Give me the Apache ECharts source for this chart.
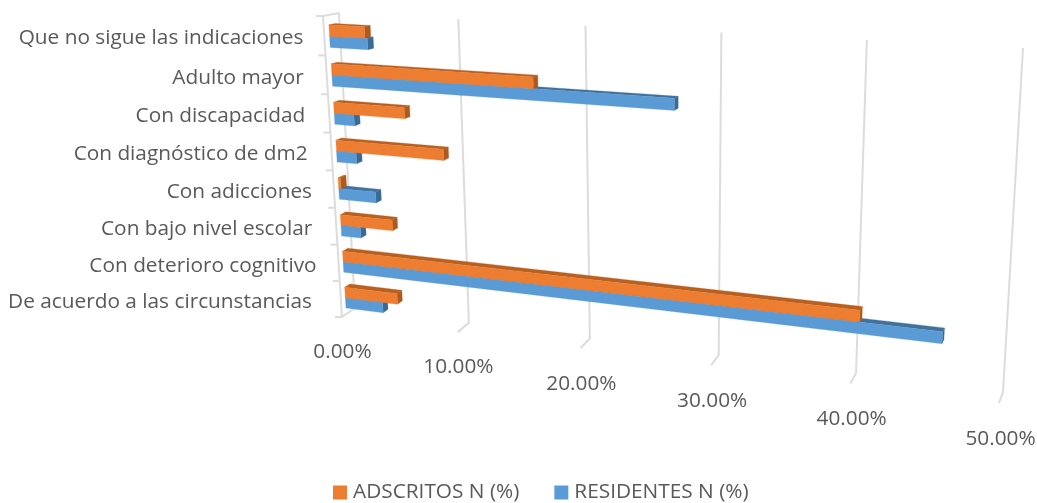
<!DOCTYPE html>
<html>
<head>
<meta charset="utf-8">
<style>html,body{margin:0;padding:0;background:#fff}#chart{width:1037px;height:503px}</style>
<script src="https://cdn.jsdelivr.net/npm/echarts@6/dist/echarts.min.js"></script>
</head>
<body>
<div id="chart"></div>
<script>
// Chart data, top row first
const categories = [
  'Que no sigue las indicaciones', 'Adulto mayor', 'Con discapacidad',
  'Con diagnóstico de dm2', 'Con adicciones', 'Con bajo nivel escolar',
  'Con deterioro cognitivo', 'De acuerdo a las circunstancias'
];
const adscritos = [3.0, 16.5, 6.0, 9.1, 0.2, 4.5, 40.4, 4.6];
const residentes = [3.2, 27.1, 1.7, 1.7, 3.2, 1.7, 46.0, 3.3];
const valueTicks = [0, 10, 20, 30, 40, 50];
const tickText = ['0.00%', '10.00%', '20.00%', '30.00%', '40.00%', '50.00%'];
const seriesNames = ['ADSCRITOS N (%)', 'RESIDENTES N (%)'];

// Perspective frame: wall corners (back) and the matching front plane
const backQuad = [[339, 13], [1023, 48], [1003, 392], [355, 308]];
const frontQuad = [[323, 16], [1018, 53], [999, 403], [342, 317]];
const GRID_W = 1037, GRID_H = 503;

// Horizontal offsets of the category captions, which do not follow the edge exactly
const captionNudge = [3, 1, 0, 0, 2, 0, 2, -5];

function makeHomography(q) {
  const [[x0, y0], [x1, y1], [x2, y2], [x3, y3]] = q;
  const dx1 = x1 - x2, dx2 = x3 - x2, sx = x0 - x1 + x2 - x3;
  const dy1 = y1 - y2, dy2 = y3 - y2, sy = y0 - y1 + y2 - y3;
  const den = dx1 * dy2 - dx2 * dy1;
  const g = (sx * dy2 - dx2 * sy) / den, h = (dx1 * sy - sx * dy1) / den;
  const a = x1 - x0 + g * x1, b = x3 - x0 + h * x3;
  const d = y1 - y0 + g * y1, e = y3 - y0 + h * y3;
  return (u, w) => {
    const k = g * u + h * w + 1;
    return [(a * u + b * w + x0) / k, (d * u + e * w + y0) / k];
  };
}
const toBack = makeHomography(backQuad);
const toFront = makeHomography(frontQuad);

// Takes a value and a fractional category row through the axes, then into the
// perspective frame. depth 0 is the front plane, depth 1 the back wall.
function place(api, value, row, depth) {
  const origin = api.coord([value, 0]);
  const band = api.size([0, 1])[1];
  const u = origin[0] / GRID_W;
  const w = (origin[1] + row * band) / GRID_H;
  const f = toFront(u, w), b = toBack(u, w);
  return [f[0] + (b[0] - f[0]) * depth, f[1] + (b[1] - f[1]) * depth];
}

const TEXT = '#595959', LINE = '#dcdcdc';
const FONT = '"Open Sans", sans-serif';
const FONT_PX = 20.8;
const DEPTH_NEAR = 0.33, DEPTH_FAR = 0.72;
const ROW_SHIFT = 0.04, BAR_SPAN = 0.29;

function face(points, fill) {
  return { type: 'polygon', shape: { points }, style: { fill, stroke: fill, lineWidth: 0.3 } };
}
function stroke(points) {
  return { type: 'polyline', shape: { points },
    style: { stroke: LINE, lineWidth: 2, fill: 'none' } };
}

function barRenderer(front, top, side, rowFrom, rowTo) {
  return function (params, api) {
    const v = api.value(0), i = api.value(1);
    const r0 = i + ROW_SHIFT + rowFrom, r1 = i + ROW_SHIFT + rowTo;
    const A = (val, r, d) => place(api, val, r, d);
    return { type: 'group', children: [
      face([A(0, r0, DEPTH_NEAR), A(v, r0, DEPTH_NEAR), A(v, r0, DEPTH_FAR), A(0, r0, DEPTH_FAR)], top),
      face([A(v, r0, DEPTH_NEAR), A(v, r0, DEPTH_FAR), A(v, r1, DEPTH_FAR), A(v, r1, DEPTH_NEAR)], side),
      face([A(0, r0, DEPTH_NEAR), A(v, r0, DEPTH_NEAR), A(v, r1, DEPTH_NEAR), A(0, r1, DEPTH_NEAR)], front)
    ] };
  };
}

function gridRenderer(params, api) {
  const v = api.value(0), n = categories.length;
  const children = [
    stroke([place(api, v, -0.5, 1), place(api, v, n - 0.5, 1), place(api, v, n - 0.5, 0)])
  ];
  const foot = place(api, v, n - 0.5, 0);
  children.push({ type: 'text', style: {
    x: foot[0] + 0.5 + v * 0.02, y: foot[1] + 35 + v * 0.02, text: tickText[params.dataIndex],
    fill: TEXT, font: FONT_PX + 'px ' + FONT, align: 'center', verticalAlign: 'middle' } });
  if (v === 0) {
    // Left edge of the side wall with its category tick marks
    children.push(stroke([place(api, 0, -0.5, 1), place(api, 0, -0.5, 0), place(api, 0, n - 0.5, 0)]));
    for (let r = 0; r <= n; r++) {
      const p = place(api, 0, r - 0.5, 0);
      children.push(stroke([[p[0] - 7, p[1]], p]));
    }
  }
  return { type: 'group', children };
}

function categoryRenderer(params, api) {
  const i = api.value(0);
  const p = place(api, 0, i + 0.02, 0);
  return { type: 'text', style: {
    x: p[0] - 24 + captionNudge[i], y: p[1] + 2, text: categories[i], fill: TEXT,
    font: FONT_PX + 'px ' + FONT, align: 'right', verticalAlign: 'middle' } };
}

const chart = echarts.init(document.getElementById('chart'), null, { renderer: 'canvas' });
chart.setOption({
  animation: false,
  backgroundColor: '#ffffff',
  grid: { left: 0, top: 0, width: GRID_W, height: GRID_H, containLabel: false, show: false },
  xAxis: { type: 'value', min: 0, max: 50, interval: 10, show: false },
  yAxis: { type: 'category', data: categories, inverse: true, show: false },
  legend: {
    left: 333, top: 482, padding: 0, icon: 'rect', itemWidth: 14, itemHeight: 14, itemGap: 35,
    data: seriesNames,
    textStyle: { color: TEXT, fontSize: FONT_PX, fontFamily: FONT, padding: [0, 0, 0, 1] }
  },
  series: [
    { type: 'custom', silent: true, clip: false, z: 1, legendHoverLink: false,
      data: valueTicks.map(t => [t, 0]), renderItem: gridRenderer },
    { type: 'custom', silent: true, clip: false, z: 1,
      data: categories.map((c, i) => [i, i]), encode: { x: 1, y: 1 }, renderItem: categoryRenderer },
    { type: 'custom', name: seriesNames[1], clip: false, z: 2, itemStyle: { color: '#5b9bd5' },
      data: residentes.map((v, i) => [v, i]),
      renderItem: barRenderer('#5b9bd5', '#41719c', '#3a6a96', 0, BAR_SPAN) },
    { type: 'custom', name: seriesNames[0], clip: false, z: 3, itemStyle: { color: '#ed7d31' },
      data: adscritos.map((v, i) => [v, i]),
      renderItem: barRenderer('#ed7d31', '#b9601f', '#ae5a1e', -BAR_SPAN, 0) }
  ]
});
</script>
</body>
</html>
